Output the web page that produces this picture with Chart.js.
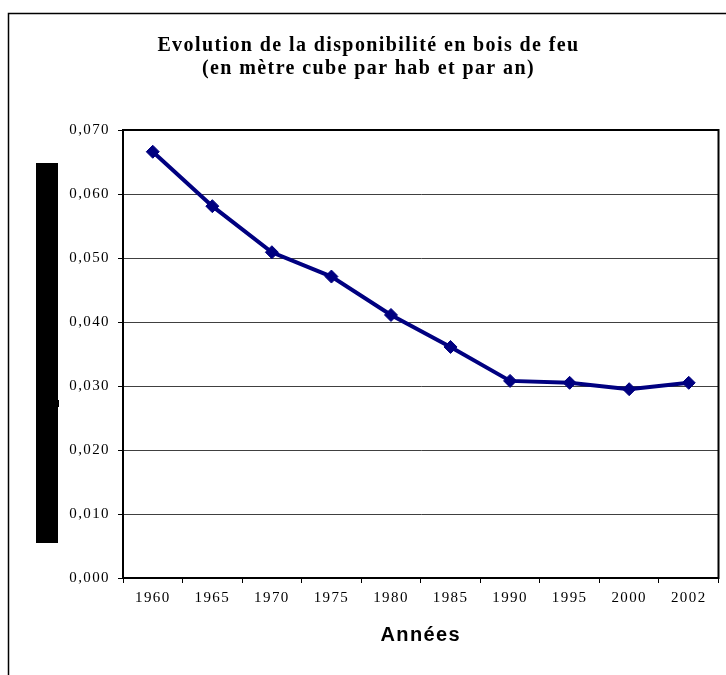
<!DOCTYPE html>
<html>
<head>
<meta charset="utf-8">
<script src="https://cdn.jsdelivr.net/npm/chart.js@4/dist/chart.umd.min.js"></script>
<style>
    body { margin: 0; background: #fff; }
    canvas { display: block; }
</style>
</head>
<body>
<canvas id="graficoBois" width="726" height="675"></canvas>
<script>
// données
const annees = ['1960', '1965', '1970', '1975', '1980', '1985', '1990', '1995', '2000', '2002'];
const disponibilite = [0.0666, 0.0581, 0.0509, 0.0471, 0.0411, 0.0361, 0.0308, 0.0305, 0.0295, 0.0305];
const ticksY = [0, 0.01, 0.02, 0.03, 0.04, 0.05, 0.06, 0.07];

const titre = ['Evolution de la disponibilité en bois de feu', '(en mètre cube par hab et par an)'];
const titreX = 'Années';

// le texte de l'original est assez espacé
const espacement = {
    id: 'espacement',
    beforeUpdate(chart) { chart.ctx.letterSpacing = '1.4px'; },
    beforeDraw(chart) { chart.ctx.letterSpacing = '1.4px'; }
};

// cadre extérieur, bloc noir à gauche et bordure de la zone de tracé
const cadre = {
    id: 'cadre',
    beforeDraw(chart) {
        const ctx = chart.ctx;
        ctx.save();
        ctx.strokeStyle = '#000';
        ctx.lineWidth = 1.5;
        ctx.beginPath();
        ctx.moveTo(8.5, 675);
        ctx.lineTo(8.5, 13.5);
        ctx.lineTo(726, 13.5);
        ctx.stroke();
        ctx.fillStyle = '#000';
        ctx.fillRect(36, 163, 22, 380);
        ctx.fillRect(57, 400, 2, 7);
        ctx.restore();
    },
    beforeDatasetsDraw(chart) {
        const a = chart.chartArea;
        const ctx = chart.ctx;
        ctx.save();
        ctx.strokeStyle = '#000';
        ctx.lineWidth = 2;
        ctx.strokeRect(a.left, a.top, a.right - a.left, a.bottom - a.top);
        ctx.restore();
    }
};

const ctx = document.getElementById('graficoBois').getContext('2d');
new Chart(ctx, {
    type: 'line',
    data: {
        labels: annees,
        datasets: [{
            data: disponibilite,
            borderColor: '#000080',
            backgroundColor: '#000080',
            borderWidth: 4,
            pointStyle: 'rectRot',
            pointRadius: 6.5,
            pointBorderWidth: 1,
            tension: 0
        }]
    },
    options: {
        responsive: false,
        animation: false,
        layout: { padding: { left: 18, right: 7, top: 0, bottom: 28 } },
        plugins: {
            legend: { display: false },
            tooltip: { enabled: false },
            title: {
                display: true,
                text: titre,
                color: '#000',
                font: { family: 'Liberation Serif', size: 20, weight: 'bold', lineHeight: 1.15 },
                padding: { top: 34, bottom: 50 }
            }
        },
        scales: {
            x: {
                offset: true,
                grid: { display: true, drawOnChartArea: false, offset: true, tickLength: 5, color: '#000', lineWidth: 1 },
                border: { color: '#000', width: 2 },
                ticks: {
                    color: '#000', padding: 6, maxRotation: 0,
                    font: { family: 'Liberation Serif', size: 15 }
                },
                title: {
                    display: true,
                    text: titreX,
                    color: '#000',
                    font: { family: 'Liberation Sans', size: 20, weight: 'bold', lineHeight: 1.2 },
                    padding: { top: 10, bottom: 0 }
                }
            },
            y: {
                min: 0,
                max: 0.07,
                afterBuildTicks(scale) {
                    scale.ticks = ticksY.map(v => ({ value: v }));
                },
                afterFit(scale) {
                    scale.width = 105;
                },
                grid: { color: '#404040', lineWidth: 1, tickLength: 5, tickColor: '#000' },
                border: { color: '#000', width: 2 },
                ticks: {
                    color: '#000', padding: 8,
                    font: { family: 'Liberation Serif', size: 15 },
                    callback: v => v.toFixed(3).replace('.', ',')
                }
            }
        }
    },
    plugins: [espacement, cadre]
});
</script>
</body>
</html>
